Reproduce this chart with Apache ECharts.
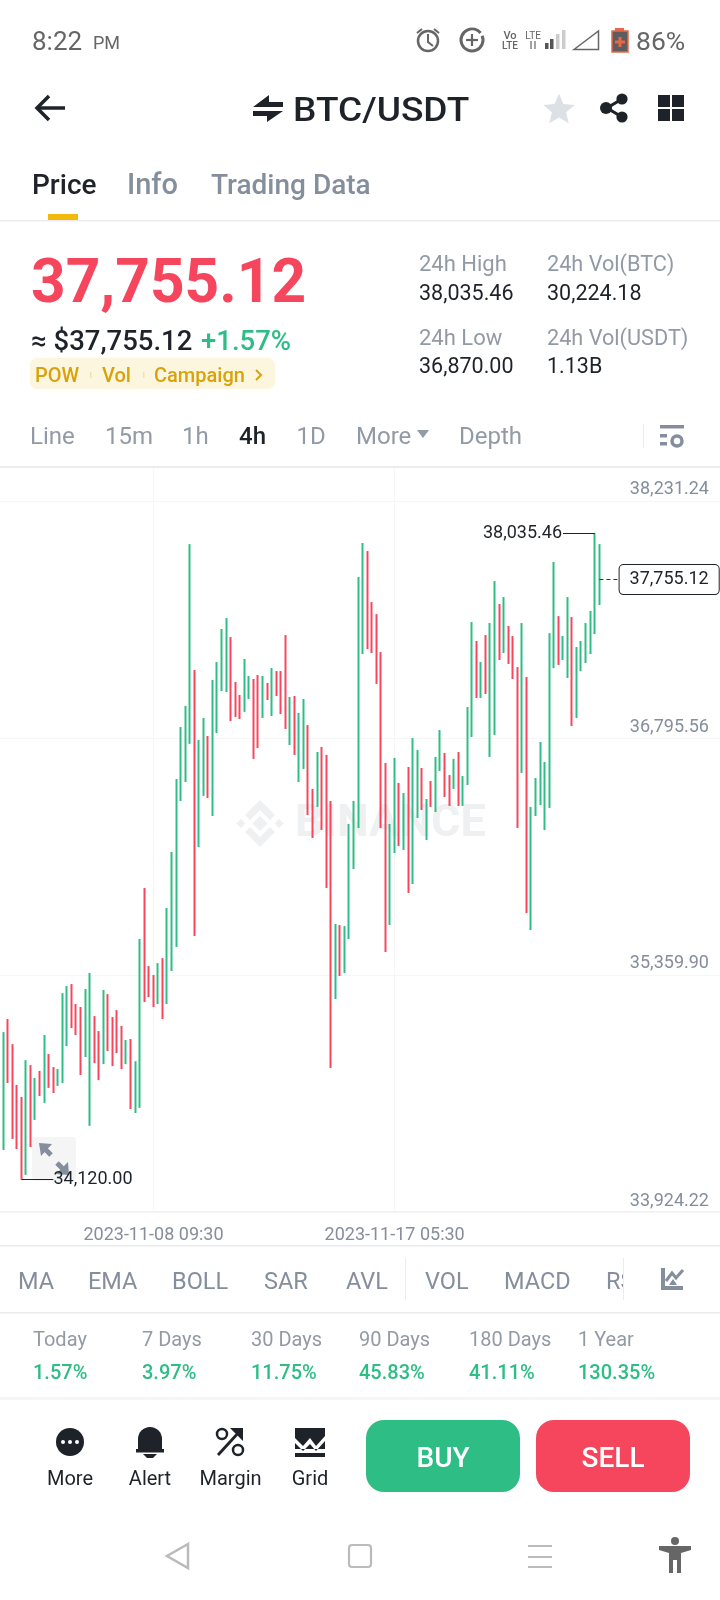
<!DOCTYPE html>
<html><head><meta charset="utf-8">
<style>html,body{margin:0;padding:0;background:#fff}#c{width:720px;height:1600px}</style>
<script src="https://cdn.jsdelivr.net/npm/echarts@6/dist/echarts.min.js"></script>
</head><body><div id="c"></div>
<script>
const opens=[35269,34645,35014,34941,34682,34464,34258,34754,34530,34694,34664,34760,34754,34706,34730,35057,35287,35129,35087,34881,34923,34996,34966,34899,35226,35075,35045,34984,34917,34953,34627,34723,35450,35402,35257,35226,35317,35226,35620,35996,36529,36529,36802,37080,36384,36693,36735,36438,37068,37080,37225,37298,37044,37008,36996,37044,37153,37086,36984,37129,37056,37147,37105,37068,36917,36953,36814,36844,36844,36462,36450,36681,36256,36147,35293,35547,35372,35578,36238,36402,37498,37855,37456,37437,37250,36408,35917,36159,36481,36250,36372,36044,36317,36614,36372,36420,36402,36675,36681,36565,36523,36614,36511,36565,36947,37359,37038,37177,37086,37147,37565,37310,37462,37280,37225,36977,36989,35741,36378,36432,36450,36480,37286,37450,37347,37359,37371,36953,37286,37310,37389,37528,37740];
const closes=[35087,35014,34706,34682,34464,34258,34754,34530,34694,34664,34760,34706,34706,34736,35057,35287,35087,35087,34881,34984,34996,34923,34905,35226,35075,35045,34984,34917,34953,34627,34723,35450,35402,35257,35226,35317,35226,35620,35996,36432,36844,36802,37080,36384,36693,36735,36432,37068,37080,37219,37298,37044,37008,36996,37044,37165,37086,36984,37117,37056,37147,37105,37068,36917,36953,36814,36844,36850,36462,36450,36681,36238,36147,35293,35547,35360,35572,36238,36402,37498,37855,37456,37437,37250,36408,35917,36159,36481,36250,36372,36044,36317,36614,36372,36420,36408,36675,36693,36565,36523,36614,36511,36565,36947,37359,37038,37177,37086,37147,37559,37310,37462,37280,37225,36977,36989,35741,36378,36432,36450,36468,37286,37450,37359,37371,37371,36953,37286,37310,37389,37528,37740,37755.12];
const lows=[35026,34300,34706,34367,34306,34120,34149,34318,34482,34627,34585,34676,34645,34688,34706,34929,35038,34996,34754,34863,34446,34826,34723,34820,34899,34808,34887,34790,34820,34548,34524,34555,35196,35226,35166,35184,35093,35184,35384,35530,36414,36529,36760,35596,36135,36445,36432,36323,36826,37080,37074,36898,36923,36911,36954,37032,36669,36735,36917,37026,36929,37050,36941,36850,36753,36693,36529,36608,36329,36190,36378,36238,35887,34796,35214,35354,35372,35578,36002,36250,37304,37334,37310,37123,36250,35499,35663,36099,36141,36117,35857,35911,36311,36359,36178,36378,36347,36596,36438,36384,36487,36384,36384,36511,36802,37038,37038,37062,36681,36814,37268,37310,37244,37153,36250,36584,35735,35632,36323,36390,36238,36372,37219,37238,37268,37159,36868,36917,37201,37250,37304,37425,37601];
const highs=[35372,35014,35093,34941,34694,34621,34844,34814,34736,34779,34996,34881,34802,34790,35250,35293,35305,35184,35166,35275,35372,35111,35020,35269,35244,35105,35147,35051,34966,34972,34838,35578,35887,35414,35360,35432,35462,35766,36105,36547,36862,36990,37970,37207,36784,36917,36808,37147,37256,37456,37522,37407,37135,37056,37274,37171,37153,37177,37171,37129,37219,37201,37201,37419,37044,37050,36947,37032,36874,36487,36711,36741,36693,36414,35669,35662,35656,36275,36414,37771,37977,37928,37619,37546,37316,36644,36275,36675,36523,36462,36620,36795,36723,36614,36426,36535,36681,36844,36705,36571,36669,36711,36565,36983,37498,37383,37256,37419,37492,37746,37607,37649,37474,37413,37225,37492,37165,36378,36553,36771,36650,37431,37862,37534,37413,37649,37528,37347,37383,37492,37565,38035.46,37970];
const priceTicks=[33924.22,35359.90,36795.56,38231.24];
const timeTicks=['2023-11-08 09:30','2023-11-17 05:30'];
const highLabel=38035.46, lowLabel=34120.00, lastPrice=37755.12;
const stats=['Today','7 Days','30 Days','90 Days','180 Days','1 Year'];
const statValues=['1.57%','3.97%','11.75%','45.83%','41.11%','130.35%'];
const indicators=['MA','EMA','BOLL','SAR','AVL','VOL','MACD'];
const frames=['Line','15m','1h','4h','1D','More','Depth'];

const pad=n=>String(n).padStart(2,'0');
const categories=[];
for(let i=0;i<159;i++){const d=new Date(Date.UTC(2023,10,8,9,30)+(i-34)*4*3600*1000);
  categories.push(`${d.getUTCFullYear()}-${pad(d.getUTCMonth()+1)}-${pad(d.getUTCDate())} ${pad(d.getUTCHours())}:${pad(d.getUTCMinutes())}`);}
const candles=opens.map((o,i)=>[o,closes[i],lows[i],highs[i]]);
const fmt=v=>Number(v).toLocaleString('en-US',{minimumFractionDigits:2,maximumFractionDigits:2});

const F='Roboto, sans-serif', DARK='#1e2329', GRAY='#929aa5', G2='#848e9c', GREEN='#2ebd85', RED='#f6465d', LINE='#eaecef';
const T=(text,x,y,size,fill,weight,align,sx)=>({type:'text',z:10,x,y:y+2,scaleX:sx||1,style:{text,x:0,y:0,fill,font:`${weight||400} ${size}px ${F}`,textAlign:align||'left',textVerticalAlign:'middle'}});
const R=(x,y,width,height,fill,r)=>({type:'rect',z:10,shape:{x,y,width,height,r:r||0},style:{fill}});
const C=(cx,cy,r,fill,stroke,lw)=>({type:'circle',z:10,shape:{cx,cy,r},style:{fill:fill||'none',stroke:stroke||'none',lineWidth:lw||0}});
const PG=(points,fill,stroke,lw)=>({type:'polygon',z:10,shape:{points},style:{fill:fill||'none',stroke:stroke||'none',lineWidth:lw||0}});
const PL=(points,stroke,lw)=>({type:'polyline',z:10,shape:{points},style:{fill:'none',stroke,lineWidth:lw,lineCap:'butt'}});
const low=el=>({...el,z:0});

const star=[];for(let i=0;i<10;i++){const a=-Math.PI/2+i*Math.PI/5,r=i%2?7.5:16.5;star.push([559+r*Math.cos(a),110+r*Math.sin(a)]);}

const frameX=[30,105,182,239,296.5,356,459];
const indX=[18,88,172,264,346,425,504];
const statX=[33,142,251,359,469,578];
const MARK='#eff0f2';

const graphics=[
 // status bar
 T('8:22',32,41,26,'#666'),T('PM',93,42,18,'#666'),T('86%',636,41,26.5,'#666'),
 C(428,41,10,null,'#666',2.5),PL([[428,34],[428,42],[433,46]],'#666',2),PL([[417,33],[422,29]],'#666',2),PL([[434,29],[439,33]],'#666',2),
 {type:'arc',z:10,shape:{cx:472,cy:40,r:11,startAngle:-0.4,endAngle:5.6,clockwise:true},style:{fill:'none',stroke:'#666',lineWidth:3}},
 PL([[466,40],[478,40]],'#666',2.2),PL([[472,34],[472,46]],'#666',2.2),
 T('Vo',510,34,11,'#666',500,'center'),T('LTE',510,44,10,'#666',500,'center'),T('LTE',533,34,10,'#666',400,'center'),
 PL([[531,41],[531,49]],'#666',1.2),PL([[535,41],[535,49]],'#666',1.2),
 R(545,43,3.5,6,'#555'),R(550,39,3.5,10,'#555'),R(556,34,3.5,15,'#ccc'),R(562,30,3.5,19,'#ccc'),
 PG([[574,49.5],[598.5,31],[598.5,49.5]],null,'#666',1.5),
 R(615,28,9,4,'#e8664a'),R(612,31,16,21,'#5d5d5d'),PG([[612,31],[628,31],[628,52],[612,52]],null,'#e8664a',1.5),PL([[615,42],[625,42]],'#e8664a',3),PL([[620,37],[620,47]],'#e8664a',3),
 // header
 PL([[65,108],[38,108]],DARK,3.5),PL([[49,96],[37,108],[49,120]],DARK,3.5),
 PG([[253,107],[269,95],[269,102],[283,102],[283,107]],DARK),PG([[253,111],[283,111],[267,122],[267,116],[253,116]],DARK),
 T('BTC/USDT',293,110,34,DARK,500,'left',1.09),
 PG(star,'#dde1e6'),
 PL([[622,99],[607,108],[622,117]],DARK,3.2),C(622,99,5.6,DARK),C(606,108,6,DARK),C(622,117,5.6,DARK),
 R(658,95,12,12,DARK),R(672,95,12,12,DARK),R(658,109,12,12,DARK),R(672,109,12,12,DARK),
 // tabs
 T('Price',32,185,28,DARK,500),T('Info',127,185,29,G2,500),T('Trading Data',211,185,28,G2,500),
 R(48,214,30,6,'#f0b90b'),R(0,220,720,1.5,LINE),
 // price block
 T('37,755.12',31,284,62,RED,700,'left',0.975),
 T('≈ $37,755.12',31,341,27.5,DARK,500),T('+1.57%',201,341,27.5,GREEN,500),
 R(30,358,245,31,'#fdf6df',7),T('POW',35,375,20,'#d9a20a',500),T('Vol',102,375,20,'#d9a20a',500),T('Campaign',154,375,20,'#d9a20a',500),
 PL([[256,370],[261,375],[256,380]],'#d9a20a',2),R(90,372,1.5,6,'#eee0b0'),R(143,372,1.5,6,'#eee0b0'),
 T('24h High',419,263,22,GRAY),T('38,035.46',419,293,21.5,DARK),T('24h Vol(BTC)',547,263,22,GRAY,400,'left',0.985),T('30,224.18',547,293,21.5,DARK),
 T('24h Low',419,337,22,GRAY),T('36,870.00',419,366,21.5,DARK),T('24h Vol(USDT)',547,337,22,GRAY,400,'left',0.985),T('1.13B',547,366,21.5,DARK),
 ...frames.map((s,i)=>T(s,frameX[i],436,24,s==='4h'?DARK:GRAY,s==='4h'?500:400)),
 PG([[417,430],[429,430],[423,438]],GRAY),
 R(643,424,1,24,LINE),R(660,425,24,3.5,G2),R(660,434,7,3.5,G2),R(660,442,7,3.5,G2),C(677,441,5,'none',G2,3.5),
 R(0,466,720,2,LINE),
 // chart bottom
 R(0,1245,720,1.5,LINE),
 low(R(32,1137,44,44,'#f5f5f5',3)),
 low(PG([[39,1143],[52,1144],[41,1156]],G2)),low(PL([[45,1149],[51,1155]],G2,5)),low(PG([[69,1175],[56,1174],[68,1162]],G2)),low(PL([[63,1169],[57,1163]],G2,5)),
 // indicators
 ...indicators.map((s,i)=>T(s,indX[i],1281,23.5,G2)),
 T('RSI',606,1281,23.5,G2),
 {type:'rect',z:11,shape:{x:623.5,y:1260,width:30,height:40},style:{fill:'#fff'}},
 R(405,1258,1,42,LINE),{...R(623,1258,1,42,LINE),z:12},
 R(661,1268,4,22,G2),R(661,1286,22,4,G2),PL([[666,1281],[672,1273],[676,1278],[683,1270]],G2,3),PG([[669,1285],[673,1279],[677,1285]],G2),
 R(0,1312,720,1.5,LINE),
 ...stats.map((s,i)=>T(s,statX[i],1339,20,GRAY)),
 ...statValues.map((s,i)=>T(s,statX[i],1372,20,GREEN,500)),
 R(0,1397,720,3,'#f5f5f5'),
 // bottom bar
 C(70,1442,14,DARK),C(63,1442,2,'#fff'),C(70,1442,2,'#fff'),C(77,1442,2,'#fff'),
 C(150,1439,12,DARK),R(138,1439,24,10,DARK),R(136,1449,28,3.5,DARK),PG([[143,1454],[157,1454],[153,1458],[147,1458]],DARK),
 PL([[218,1455],[240,1431]],DARK,2.8),PG([[230,1428],[243,1428],[243,1441]],DARK),C(222,1434,5,'none',DARK,2.5),C(238,1450,5,'none',DARK,2.5),
 PG([[295,1428],[325,1428],[325,1436],[316,1446],[310,1438],[303,1446],[295,1438]],DARK),PG([[295,1443],[303,1451],[310,1444],[316,1451],[325,1441],[325,1449],[295,1449]],DARK),R(295,1453,30,4,DARK),
 T('More',70,1478,20,DARK,400,'center'),T('Alert',150,1478,20,DARK,400,'center'),T('Margin',230.5,1478,20,DARK,400,'center'),T('Grid',310,1478,20,DARK,400,'center'),
 R(366,1420,154,72,GREEN,18),R(536,1420,154,72,RED,18),
 T('BUY',443,1458,28,'#fff',500,'center'),T('SELL',613,1458,28,'#fff',500,'center'),
 // nav bar
 PG([[188,1544],[167,1556],[188,1568]],null,'#bbb',2.5),
 {type:'rect',z:10,shape:{x:349,y:1545,width:22,height:22,r:3},style:{fill:'none',stroke:'#bbb',lineWidth:2.2}},
 R(528,1545,24,2,'#bbb'),R(528,1556,24,2,'#bbb'),R(528,1566,24,2,'#bbb'),
 C(675,1541,4,'#666'),PG([[659,1546],[691,1546],[691,1550],[681,1553],[681,1573],[677,1573],[677,1560],[673,1560],[673,1573],[669,1573],[669,1553],[659,1550]],'#666'),
 // watermark
 low({...T('BINANCE',295,823,45,MARK,700)}),
 low(PG([[260,816],[267.5,823.5],[260,831],[252.5,823.5]],MARK)),
 low(PG([[279,819],[283.5,823.5],[279,828],[274.5,823.5]],MARK)),low(PG([[241,819],[245.5,823.5],[241,828],[236.5,823.5]],MARK)),
 low(PG([[260,800],[275,815],[270,820],[260,810],[250,820],[245,815]],MARK)),
 low(PG([[260,847],[275,832],[270,827],[260,837],[250,827],[245,832]],MARK)),
];

const gridLine={color:'#f6f6f7',width:1,type:'solid'};
const tagFont={color:DARK,fontSize:18,fontFamily:F};
const gridMarks=[
 ...priceTicks.map(v=>({yAxis:v,lineStyle:gridLine,label:{show:false}})),
 ...timeTicks.map(v=>({xAxis:v,lineStyle:gridLine,label:{show:false}})),
];
const tagMarks=[
 [{coord:[categories[131],highLabel],lineStyle:{color:DARK,width:1,type:'solid'},
   label:{show:true,position:'end',distance:1,formatter:fmt(highLabel),...tagFont}},{coord:[categories[124],highLabel]}],
 [{coord:[categories[5],lowLabel],lineStyle:{color:DARK,width:1,type:'solid'},
   label:{show:true,position:'end',distance:0,formatter:fmt(lowLabel),...tagFont}},{coord:[categories[12],lowLabel]}],
 [{coord:[categories[132],lastPrice],lineStyle:{color:'#333',width:1.2,type:[4,3]},
   label:{show:true,position:'end',distance:2,formatter:fmt(lastPrice),...tagFont,backgroundColor:'#fff',borderColor:DARK,borderWidth:1,borderRadius:4,padding:[6,10,5,10]}},{coord:[categories[136],lastPrice]}],
];

const chart=echarts.init(document.getElementById('c'),null,{renderer:'canvas',width:720,height:1600});
chart.setOption({
 animation:false,backgroundColor:'#fff',
 grid:{left:-3.475,width:723.45,top:467,height:745,outerBoundsMode:'none'},
 xAxis:{type:'category',data:categories,boundaryGap:true,
  axisLine:{lineStyle:{color:LINE,width:1.5}},axisTick:{show:false},splitLine:{show:false},
  axisLabel:{interval:(i,v)=>timeTicks.includes(v),color:G2,fontSize:18,fontFamily:F,margin:14,hideOverlap:false}},
 yAxis:{type:'value',position:'right',min:priceTicks[0],max:38437.2,scale:true,
  axisLine:{show:false},axisTick:{show:false},splitLine:{show:false},
  axisLabel:{inside:true,customValues:priceTicks,formatter:v=>fmt(v),color:G2,fontSize:18,fontFamily:F,verticalAlign:'bottom',margin:11,padding:[0,0,2,0]}},
 series:[
  {type:'line',data:[],z:1,silent:true,markLine:{silent:true,symbol:'none',animation:false,precision:2,z:1,data:gridMarks}},
  {type:'candlestick',data:candles,barWidth:1,silent:true,z:3,
   itemStyle:{color:GREEN,color0:RED,borderColor:GREEN,borderColor0:RED,borderWidth:2},
   markLine:{silent:true,symbol:'none',animation:false,precision:2,z:4,data:tagMarks}}],
 graphic:{elements:graphics}
});
</script></body></html>
